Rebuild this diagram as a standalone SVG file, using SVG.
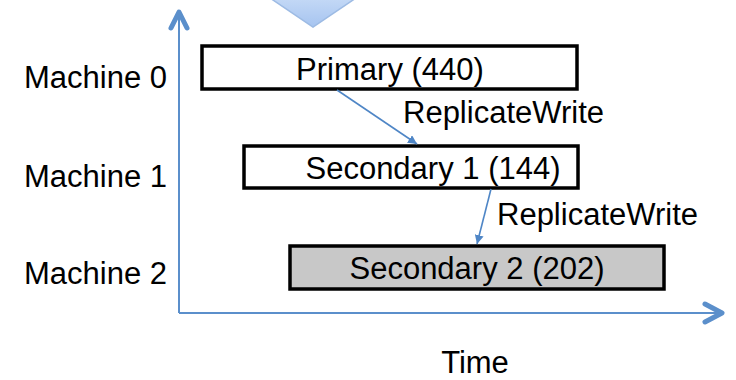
<svg xmlns="http://www.w3.org/2000/svg" width="736" height="380" viewBox="0 0 736 380">
<style>
.t{font-family:"Liberation Sans",Arial,sans-serif;font-size:31px;fill:#000}
.m{text-anchor:middle}
.box{stroke:#000;stroke-width:3.5}
.axis{stroke:#5b8fcb;stroke-width:2;fill:none}
.head{stroke:#5b8fcb;stroke-width:5;fill:none;stroke-linecap:round;stroke-linejoin:round}
.conn{stroke:#4f86c6;stroke-width:1.6;fill:none}
</style>
<defs>
<linearGradient id="g" x1="0" y1="0" x2="0" y2="1">
<stop offset="0" stop-color="#c4d9f6"/>
<stop offset="1" stop-color="#a6c4f0"/>
</linearGradient>
<marker id="ah" viewBox="0 0 10 10" refX="10" refY="5" markerWidth="9" markerHeight="9" markerUnits="userSpaceOnUse" orient="auto">
<path d="M0,0 L10,5 L0,10 z" fill="#4f86c6"/>
</marker>
</defs>
<g id="top-arrow">
<polygon points="270,-2 356,-2 313,27" fill="url(#g)" stroke="#9dbbe4" stroke-width="1.5"/>
</g>
<g id="axes">
<line class="axis" x1="179" y1="14" x2="179" y2="313"/>
<polyline class="head" points="171,28 179,12 187,28"/>
<line class="axis" x1="179" y1="313" x2="720" y2="313"/>
<polyline class="head" points="705,304 722,313 705,322"/>
</g>
<g id="labels">
<text class="t" x="24" y="88">Machine 0</text>
<text class="t" x="24" y="187">Machine 1</text>
<text class="t" x="24" y="284">Machine 2</text>
<text class="t m" x="475" y="373">Time</text>
</g>
<g id="primary">
<rect class="box" x="202" y="46" width="375" height="43" fill="#fff"/>
<text class="t m" x="390" y="80">Primary (440)</text>
</g>
<g id="secondary1">
<rect class="box" x="244" y="146" width="334" height="42" fill="#fff"/>
<text class="t m" x="433" y="179">Secondary 1 (144)</text>
</g>
<g id="secondary2">
<rect class="box" x="290" y="246" width="374" height="43" fill="#c8c8c8"/>
<text class="t m" x="477" y="279">Secondary 2 (202)</text>
</g>
<g id="connectors">
<line class="conn" x1="337" y1="90" x2="417" y2="144" marker-end="url(#ah)"/>
<text class="t" x="403" y="123">ReplicateWrite</text>
<line class="conn" x1="491" y1="189" x2="477" y2="244" marker-end="url(#ah)"/>
<text class="t" x="497" y="225">ReplicateWrite</text>
</g>
</svg>
